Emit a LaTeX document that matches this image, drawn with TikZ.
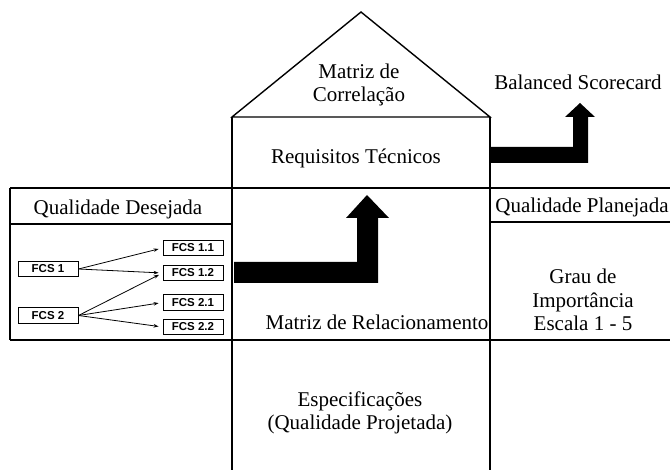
\documentclass[tikz,border=0pt]{standalone}
\usepackage{fontspec}
\setmainfont{Liberation Serif}
\newfontfamily\fcsfont{Liberation Sans}
\usetikzlibrary{arrows.meta}
\begin{document}
\begin{tikzpicture}[x=1pt,y=-1pt,
  frame/.style={line width=1.4pt},
  lbl/.style={font=\fontsize{21}{23.5}\selectfont, align=center, inner sep=0pt},
  fcs/.style={draw, line width=0.9pt, font=\fcsfont\bfseries\fontsize{11.5}{12}\selectfont, minimum width=60pt, minimum height=15.5pt, inner sep=0pt},
  link/.style={line width=0.8pt, -{Stealth[length=5pt,width=3.5pt]}, shorten >=4pt},
  bigarrow/.style={fill=black}]
\useasboundingbox (0,0) rectangle (670,470);
% house frame
\draw[frame] (232,117) -- (361,12) -- (490,117) -- cycle;
\draw[frame] (232,117) -- (232,470);
\draw[frame] (490,117) -- (490,470);
\draw[frame] (10,188) -- (670,188);
\draw[frame] (10,340) -- (670,340);
\draw[frame] (10,188) -- (10,340);
\draw[frame] (10,224) -- (232,224);
\draw[frame] (490,222) -- (670,222);
% texts
\node[lbl] (corr) at (359,85) {Matriz de\\Correlação};
\node[lbl] (req) at (356,158) {Requisitos Técnicos};
\node[lbl] (bsc) at (578,82) {Balanced Scorecard};
\node[lbl] (qd) at (118,209) {Qualidade Desejada};
\node[lbl] (qp) at (582,207) {Qualidade Planejada};
\node[lbl] (grau) at (583,300) {Grau de\\Importância\\Escala 1 - 5};
\node[lbl] (rel) at (377,322) {Matriz de Relacionamento};
\node[lbl] (esp) at (360,413) {Especificações\\(Qualidade Projetada)};
% big arrows
\fill[bigarrow] (234,262) -- (357,262) -- (357,218) -- (346,218) -- (367,195) -- (389,218) -- (378,218) -- (378,283) -- (234,283) -- cycle;
\fill[bigarrow] (490,147) -- (573,147) -- (573,117) -- (565,117) -- (580,103) -- (595,117) -- (588,117) -- (588,163) -- (490,163) -- cycle;
% FCS boxes
\node[fcs] (f1) at (48,269) {FCS 1};
\node[fcs] (f2) at (48,315.5) {FCS 2};
\node[fcs] (f11) at (193,248) {FCS 1.1};
\node[fcs] (f12) at (193,273) {FCS 1.2};
\node[fcs] (f21) at (193,302.5) {FCS 2.1};
\node[fcs] (f22) at (193,327) {FCS 2.2};
\draw[link] (f1.east) -- (f11.west);
\draw[link] (f1.east) -- (f12.west);
\draw[link] (f2.east) -- (f12.west);
\draw[link] (f2.east) -- (f21.west);
\draw[link] (f2.east) -- (f22.west);
\end{tikzpicture}
\end{document}
